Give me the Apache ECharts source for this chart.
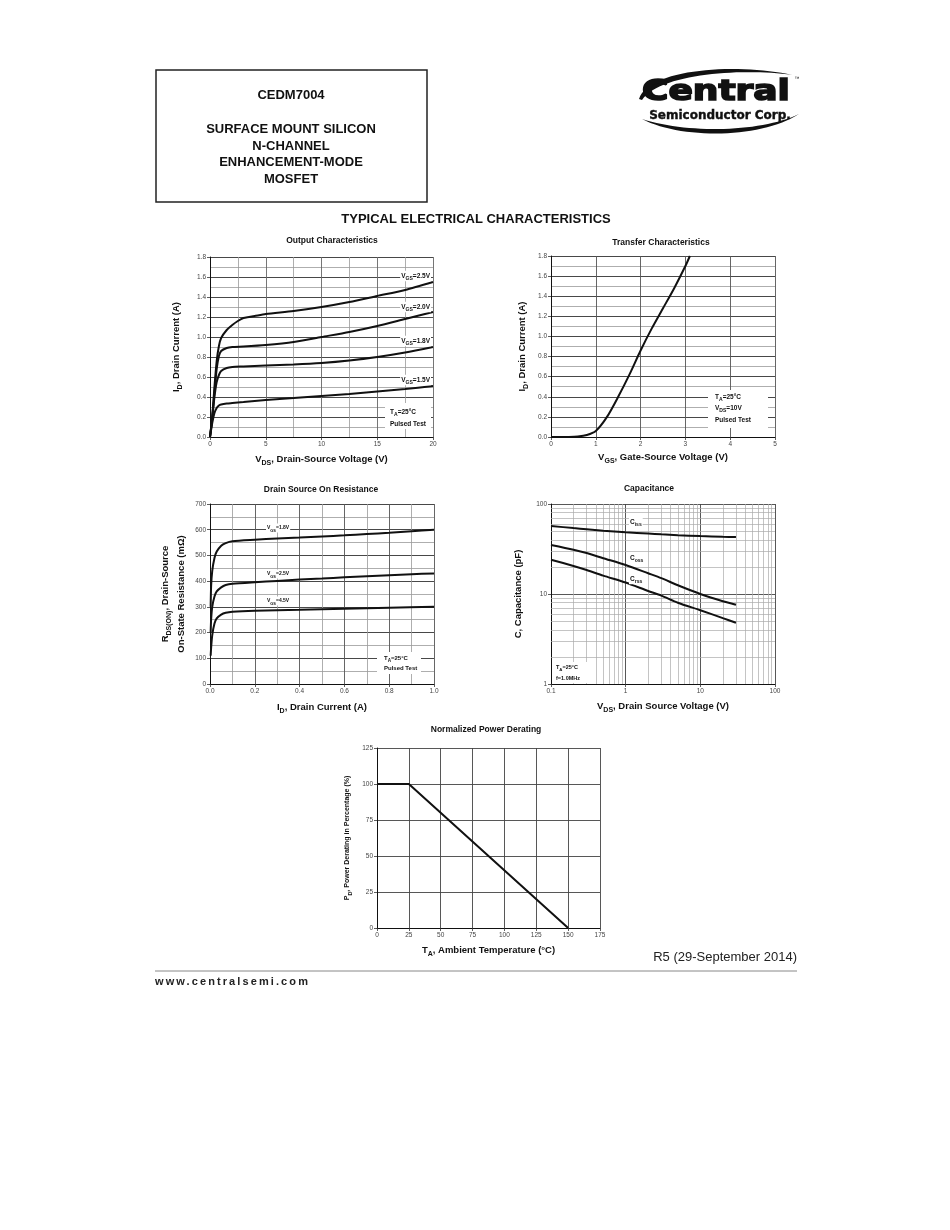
<!DOCTYPE html>
<html><head><meta charset="utf-8">
<script src="https://cdn.jsdelivr.net/npm/echarts@6/dist/echarts.min.js"></script>
<style>
html,body{margin:0;padding:0;background:#fff}
#c{width:950px;height:1230px;position:absolute;left:0;top:0}
#url{position:absolute;left:155px;top:975px;font:bold 11px 'Liberation Sans',Arial,sans-serif;letter-spacing:2.1px;color:#222}
</style>
</head><body><div id="c"></div><div id="url">www.centralsemi.com</div>
<script>
// ---------- DATA ----------
// Output characteristics: [VDS (V), ID (A)]
const outVgs25 = [[0,0],[0.2,0.2],[0.4,0.5],[0.6,0.76],[0.8,0.91],[1,0.99],[1.5,1.07],[2,1.12],[2.5,1.16],[3,1.19],[3.5,1.2],[4,1.21],[5,1.23],[7.5,1.26],[10,1.3],[12.5,1.35],[15,1.41],[17.5,1.47],[20,1.55]];
const outVgs20 = [[0,0],[0.2,0.2],[0.4,0.45],[0.6,0.68],[0.8,0.81],[1,0.86],[1.5,0.89],[2,0.9],[3,0.905],[5,0.92],[7.5,0.95],[10,1.0],[12.5,1.05],[15,1.11],[17.5,1.18],[20,1.25]];
const outVgs18 = [[0,0],[0.2,0.18],[0.4,0.4],[0.6,0.55],[0.8,0.62],[1,0.66],[1.5,0.69],[2,0.7],[3,0.705],[5,0.715],[7.5,0.725],[10,0.74],[12.5,0.765],[15,0.8],[17.5,0.845],[20,0.9]];
const outVgs15 = [[0,0],[0.2,0.14],[0.4,0.24],[0.6,0.29],[0.8,0.315],[1,0.325],[1.5,0.335],[2,0.34],[3,0.35],[5,0.37],[7.5,0.39],[10,0.41],[12.5,0.43],[15,0.455],[17.5,0.48],[20,0.51]];
// Transfer characteristics: [VGS (V), ID (A)]
const transfer = [[0,0],[0.4,0.001],[0.6,0.005],[0.8,0.02],[1.0,0.06],[1.25,0.2],[1.5,0.4],[1.75,0.62],[2.0,0.86],[2.25,1.08],[2.5,1.28],[2.75,1.48],[3.0,1.7],[3.1,1.8]];
// On resistance: [ID (A), RDS(ON) (mOhm)]
const rdsVgs18 = [[0.003,300],[0.005,380],[0.01,440],[0.02,490],[0.03,515],[0.05,538],[0.07,548],[0.1,555],[0.2,561],[0.3,566],[0.4,570],[0.5,574],[0.6,578],[0.7,583],[0.8,588],[0.9,594],[1.0,600]];
const rdsVgs25 = [[0.003,200],[0.005,250],[0.01,300],[0.02,340],[0.03,360],[0.05,376],[0.07,385],[0.1,390],[0.2,396],[0.3,401],[0.4,406],[0.5,410],[0.6,415],[0.7,419],[0.8,423],[0.9,427],[1.0,430]];
const rdsVgs45 = [[0.003,110],[0.005,140],[0.01,190],[0.02,235],[0.03,255],[0.05,270],[0.07,277],[0.1,281],[0.2,285],[0.4,289],[0.6,293],[0.8,297],[1.0,300]];
// Capacitance: [VDS (V), C (pF)]
const capCiss = [[0.1,57],[0.2,54],[0.3,52.5],[0.5,50.5],[1,48.5],[2,47],[3,46],[5,45],[10,44],[20,43.2],[30,43]];
const capCoss = [[0.1,35],[0.2,31],[0.3,28.5],[0.5,25],[1,21],[2,17],[3,15],[5,12.5],[10,10],[20,8.3],[30,7.6]];
const capCrss = [[0.1,24],[0.2,20.5],[0.3,18.5],[0.5,16],[1,13.4],[2,10.8],[3,9.6],[5,8],[10,6.6],[20,5.4],[30,4.8]];
const capXMinor = [0.2,0.3,0.4,0.5,0.6,0.7,0.8,0.9,2,3,4,5,6,7,8,9,20,30,40,50,60,70,80,90];
const capYMinor = [2,3,4,5,6,7,8,9,20,30,40,50,60,70,80,90];
// Power derating: [TA (C), PD (%)]
const derating = [[0,100],[25,100],[150,0]];
// Tick labels
const outXTicks = ['0','5','10','15','20'];
const outYTicks = ['0.0','0.2','0.4','0.6','0.8','1.0','1.2','1.4','1.6','1.8'];
const trXTicks = ['0','1','2','3','4','5'];
const trYTicks = ['0.0','0.2','0.4','0.6','0.8','1.0','1.2','1.4','1.6','1.8'];
const rdsXTicks = ['0.0','0.2','0.4','0.6','0.8','1.0'];
const rdsYTicks = ['0','100','200','300','400','500','600','700'];
const capXTicks = ['0.1','1','10','100'];
const capYTicks = ['1','10','100'];
const pdXTicks = ['0','25','50','75','100','125','150','175'];
const pdYTicks = ['0','25','50','75','100','125'];

// ---------- STYLE HELPERS ----------
const FF = '"Liberation Sans", Arial, sans-serif';
const nameRich = {
  b: {fontSize: 9.5, fontWeight: 'bold', fontFamily: FF, color: '#111', lineHeight: 16, verticalAlign: 'middle'},
  s: {fontSize: 7, fontWeight: 'bold', fontFamily: FF, color: '#111', lineHeight: 8, verticalAlign: 'bottom'}
};
const nameRichSmall = {
  b: {fontSize: 7, fontWeight: 'bold', fontFamily: FF, color: '#111', lineHeight: 12, verticalAlign: 'middle'},
  s: {fontSize: 5.5, fontWeight: 'bold', fontFamily: FF, color: '#111', lineHeight: 6, verticalAlign: 'bottom'}
};
function axis(o) {
  const a = {
    gridIndex: o.g, type: o.type || 'value', min: o.min, max: o.max,
    name: o.name, nameLocation: 'middle', nameGap: o.gap,
    nameRotate: o.rot || 0,
    nameTextStyle: {rich: o.rich || nameRich},
    axisLine: {show: true, onZero: false, lineStyle: {color: '#111', width: 1}},
    axisTick: {show: true, inside: false, length: 3, lineStyle: {color: '#333', width: 0.8}},
    axisLabel: {fontSize: 6.5, color: '#444', fontFamily: FF, margin: 4,
      formatter: (v, i) => (o.ticks[i] !== undefined ? o.ticks[i] : '')},
    splitLine: {show: true, lineStyle: {color: o.major || '#555', width: 0.9}},
    minorTick: {show: false},
    minorSplitLine: {show: !!o.minor, lineStyle: {color: '#999', width: 0.8}}
  };
  if (o.type === 'log') { a.logBase = 10; } else { a.interval = o.interval; }
  if (o.minor) a.minorTick = {show: false, splitNumber: o.minor};
  return a;
}
const curve = (g, data, w) => ({
  type: 'line', xAxisIndex: g, yAxisIndex: g, data: data, showSymbol: false, symbol: 'none',
  smooth: 0.25, lineStyle: {color: '#111', width: w || 2}, silent: true, z: 10
});

// ---------- GRAPHIC HELPERS ----------
function txt(x, y, text, size, opts) {
  opts = opts || {};
  return {
    type: 'text', x: x, y: y, z: opts.z || 100, scaleX: opts.sx || 1,
    style: {
      text: text, fill: opts.color || '#111',
      font: (opts.bold === false ? '' : 'bold ') + size + 'px ' + (opts.family || FF),
      align: opts.align || 'center', verticalAlign: opts.va || 'middle',
      textAlign: opts.align || 'center', textVerticalAlign: opts.va || 'middle',
      rich: opts.rich, backgroundColor: opts.bg, padding: opts.pad,
      stroke: opts.stroke || null, lineWidth: opts.lw || 0
    }
  };
}
function labRich(size) {
  return {
    n: {fontSize: size, fontWeight: 'bold', fontFamily: FF, color: '#111', lineHeight: size + 4, verticalAlign: 'middle'},
    s: {fontSize: size * 0.78, fontWeight: 'bold', fontFamily: FF, color: '#111', lineHeight: size * 0.6, verticalAlign: 'bottom'}
  };
}
function lab(x, y, text, size, align, bg) {
  return txt(x, y, text, size, {rich: labRich(size), align: align || 'left', bg: bg === false ? null : '#fff', pad: [0, 1]});
}
function rect(x, y, w, h, fill, stroke, lw) {
  return {type: 'rect', z: 99, shape: {x: x, y: y, width: w, height: h},
    style: {fill: fill || '#fff', stroke: stroke || null, lineWidth: lw || 0}};
}
// crescent swoosh shape for the logo, from two cubic curves
function bez(p, t) {
  const u = 1 - t;
  return [u*u*u*p[0][0] + 3*u*u*t*p[1][0] + 3*u*t*t*p[2][0] + t*t*t*p[3][0],
          u*u*u*p[0][1] + 3*u*u*t*p[1][1] + 3*u*t*t*p[2][1] + t*t*t*p[3][1]];
}
function swoosh(outer, inner) {
  const pts = [];
  for (let i = 0; i <= 30; i++) pts.push(bez(outer, i / 30));
  for (let i = 30; i >= 0; i--) pts.push(bez(inner, i / 30));
  return {type: 'polygon', z: 50, shape: {points: pts}, style: {fill: '#111'}};
}

// ---------- OPTION ----------
const grids = [
  {left: 210, top: 257, width: 223, height: 180},
  {left: 551, top: 256, width: 224, height: 181},
  {left: 210, top: 504, width: 224, height: 180},
  {left: 551, top: 504, width: 224, height: 180},
  {left: 377, top: 748, width: 223, height: 180}
].map(g => Object.assign({outerBoundsMode: 'none', containLabel: false, show: false}, g));

const xAxes = [
  axis({g: 0, min: 0, max: 20, interval: 5, minor: 2, ticks: outXTicks, major: '#666', gap: 14,
    name: '{b|V}{s|DS}{b|, Drain-Source Voltage (V)}'}),
  axis({g: 1, min: 0, max: 5, interval: 1, ticks: trXTicks, major: '#555', gap: 12,
    name: '{b|V}{s|GS}{b|, Gate-Source Voltage (V)}'}),
  axis({g: 2, min: 0, max: 1, interval: 0.2, minor: 2, ticks: rdsXTicks, major: '#555', gap: 15,
    name: '{b|I}{s|D}{b|, Drain Current (A)}'}),
  axis({g: 3, type: 'log', min: 0.1, max: 100, ticks: capXTicks, major: '#444', gap: 14,
    name: '{b|V}{s|DS}{b|, Drain Source Voltage (V)}'}),
  axis({g: 4, min: 0, max: 175, interval: 25, ticks: pdXTicks, major: '#444', gap: 14,
    name: '{b|T}{s|A}{b|, Ambient Temperature (°C)}'})
];
const yAxes = [
  axis({g: 0, min: 0, max: 1.8, interval: 0.2, minor: 2, ticks: outYTicks, major: '#333', gap: 26, rot: 90,
    name: '{b|I}{s|D}{b|, Drain Current (A)}'}),
  axis({g: 1, min: 0, max: 1.8, interval: 0.2, minor: 2, ticks: trYTicks, major: '#333', gap: 21, rot: 90,
    name: '{b|I}{s|D}{b|, Drain Current (A)}'}),
  axis({g: 2, min: 0, max: 700, interval: 100, minor: 2, ticks: rdsYTicks, major: '#333', gap: 21, rot: 90,
    name: '{b|R}{s|DS(ON)}{b|, Drain-Source}\n{b|On-State Resistance (mΩ)}'}),
  axis({g: 3, type: 'log', min: 1, max: 100, ticks: capYTicks, major: '#444', gap: 25, rot: 90,
    name: '{b|C, Capacitance (pF)}'}),
  axis({g: 4, min: 0, max: 125, interval: 25, ticks: pdYTicks, major: '#444', gap: 24, rot: 90, rich: nameRichSmall,
    name: '{b|P}{s|D}{b|, Power Derating in Percentage (%)}'})
];

const series = [
  curve(0, outVgs25), curve(0, outVgs20), curve(0, outVgs18), curve(0, outVgs15),
  curve(1, transfer),
  curve(2, rdsVgs18), curve(2, rdsVgs25), curve(2, rdsVgs45),
  curve(3, capCiss), curve(3, capCoss), curve(3, capCrss),
  {type: 'line', xAxisIndex: 3, yAxisIndex: 3, data: [[0.1, 1]], showSymbol: false, silent: true, z: 1,
    lineStyle: {width: 0},
    markLine: {silent: true, symbol: 'none', animation: false, z: 1, label: {show: false},
      lineStyle: {color: '#aaa', width: 0.7, type: 'solid'},
      data: capXMinor.map(v => ({xAxis: v})).concat(capYMinor.map(v => ({yAxis: v})))}},
  Object.assign(curve(4, derating, 2), {smooth: false})
];

const graphic = [
  // header box
  {type: 'rect', shape: {x: 156, y: 70, width: 271, height: 132}, style: {fill: 'none', stroke: '#222', lineWidth: 1.5}},
  txt(291, 95, 'CEDM7004', 13),
  txt(291, 129, 'SURFACE MOUNT SILICON', 13),
  txt(291, 146, 'N-CHANNEL', 13),
  txt(291, 162, 'ENHANCEMENT-MODE', 13),
  txt(291, 179, 'MOSFET', 13),
  // logo
  swoosh([[639,99],[648,68],[740,63],[792,75]], [[642,100],[660,73],[745,68],[792,75]]),
  swoosh([[642,119],[682,140],[762,138],[799,114]], [[642,119],[688,134],[762,132],[799,114]]),
  txt(642, 107, 'Central', 29, {family: '"DejaVu Sans", sans-serif', align: 'left', va: 'bottom', sx: 1.24, stroke: '#111', lw: 1.6}),
  txt(720, 116, 'Semiconductor Corp.', 12, {family: '"DejaVu Sans", sans-serif', stroke: '#111', lw: 0.4}),
  txt(797, 79, '™', 5, {bold: false}),
  // section title
  txt(476, 219, 'TYPICAL ELECTRICAL CHARACTERISTICS', 13),
  // chart titles
  txt(332, 241, 'Output Characteristics', 8.5),
  txt(661, 243, 'Transfer Characteristics', 8.5),
  txt(321, 490, 'Drain Source On Resistance', 8.5),
  txt(649, 489, 'Capacitance', 8.5),
  txt(486, 730, 'Normalized Power Derating', 8.5),
  // output annotations
  lab(431, 276, '{n|V}{s|GS}{n|=2.5V}', 6.5, 'right'),
  lab(431, 307, '{n|V}{s|GS}{n|=2.0V}', 6.5, 'right'),
  lab(431, 341, '{n|V}{s|GS}{n|=1.8V}', 6.5, 'right'),
  lab(431, 380, '{n|V}{s|GS}{n|=1.5V}', 6.5, 'right'),
  rect(385, 403, 46, 26),
  lab(389, 412, '{n|T}{s|A}{n|=25°C}', 6.5, 'left', false),
  lab(389, 424, '{n|Pulsed Test}', 6.5, 'left', false),
  // transfer annotations
  rect(708, 390, 60, 38),
  lab(714, 397, '{n|T}{s|A}{n|=25°C}', 6.5, 'left', false),
  lab(714, 408, '{n|V}{s|DS}{n|=10V}', 6.5, 'left', false),
  lab(714, 420, '{n|Pulsed Test}', 6.5, 'left', false),
  // on-resistance annotations
  lab(266, 528, '{n|V}{s|GS}{n|=1.8V}', 5, 'left'),
  lab(266, 574, '{n|V}{s|GS}{n|=2.5V}', 5, 'left'),
  lab(266, 601, '{n|V}{s|GS}{n|=4.5V}', 5, 'left'),
  rect(377, 652, 44, 22),
  lab(383, 658, '{n|T}{s|A}{n|=25°C}', 6, 'left', false),
  lab(383, 668, '{n|Pulsed Test}', 6, 'left', false),
  // capacitance annotations
  lab(629, 522, '{n|C}{s|iss}', 6.5, 'left'),
  lab(629, 558, '{n|C}{s|oss}', 6.5, 'left'),
  lab(629, 579, '{n|C}{s|rss}', 6.5, 'left'),
  rect(552, 662, 37, 21),
  lab(555, 667, '{n|T}{s|A}{n|=25°C}', 5.5, 'left', false),
  lab(555, 678, '{n|f=1.0MHz}', 5.5, 'left', false),
  // footer
  txt(797, 957, 'R5 (29-September 2014)', 13, {bold: false, align: 'right', color: '#222'}),
  {type: 'line', shape: {x1: 155, y1: 971, x2: 797, y2: 971}, style: {stroke: '#888', lineWidth: 1}}
];

const chart = echarts.init(document.getElementById('c'), null, {renderer: 'canvas'});
chart.setOption({
  backgroundColor: '#fff',
  animation: false,
  grid: grids,
  xAxis: xAxes,
  yAxis: yAxes,
  series: series,
  graphic: {elements: graphic}
});
</script></body></html>
